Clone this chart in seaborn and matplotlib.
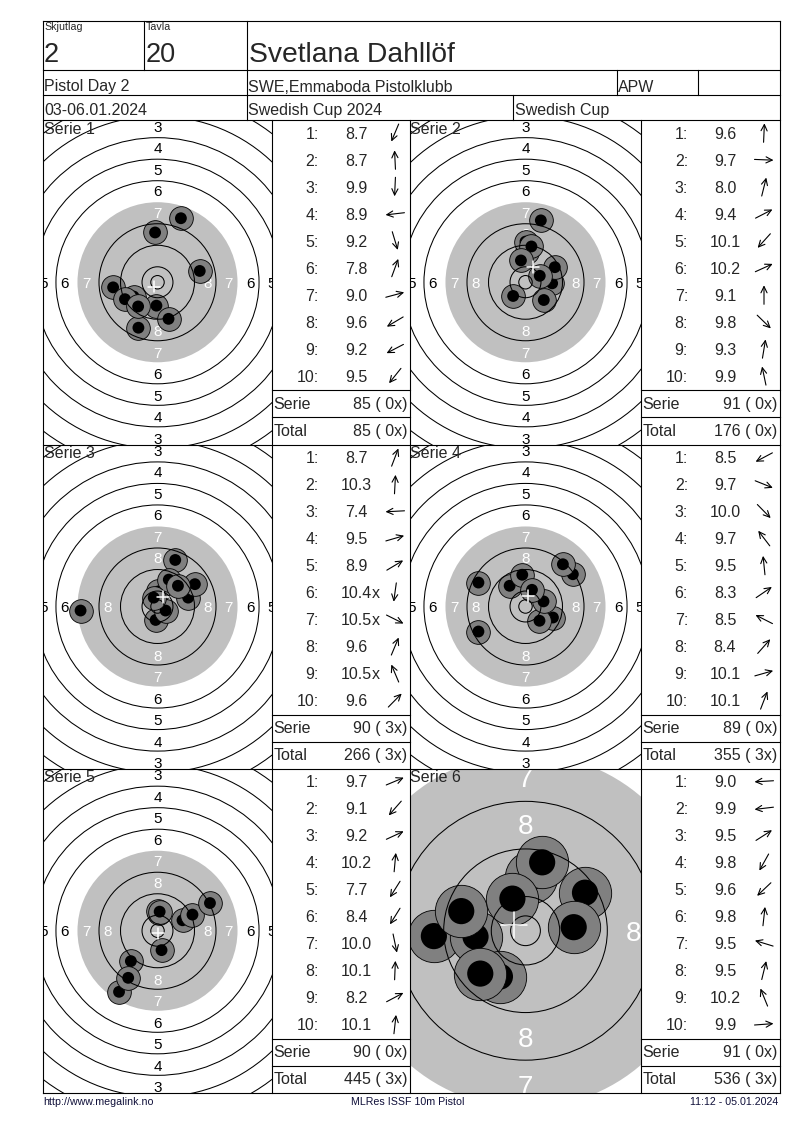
import numpy as np
import pandas as pd
import matplotlib
matplotlib.use("Agg")
import matplotlib.pyplot as plt
import seaborn as sns
from matplotlib.patches import Circle

# ---------------- data ----------------
relay_label, relay = "Skjutlag", "2"
lane_label, lane = "Tavla", "20"
shooter = "Svetlana Dahllöf"
event_name = "Pistol Day 2"
club = "SWE,Emmaboda Pistolklubb"
shooter_class = "APW"
date_range = "03-06.01.2024"
competition = "Swedish Cup 2024"
cup_name = "Swedish Cup"
footer_left = "http://www.megalink.no"
footer_mid = "MLRes ISSF 10m Pistol"
footer_right = "11:12 - 05.01.2024"

series_titles = ["Serie 1", "Serie 2", "Serie 3", "Serie 4", "Serie 5", "Serie 6"]

# shot positions in mm from the centre (x right, y up), in shot order
s1_x = [-7.1, -0.9, -0.4, -16.5, 4.1, 8.7, 15.7, -8.9, -12.1, -7.2]
s1_y = [-16.9, 18.5, -8.7, -1.9, -13.6, 23.8, 4.2, -5.3, -6.3, -9.0]
s1_score = [8.7, 8.7, 9.9, 8.9, 9.2, 7.8, 9.0, 9.6, 9.2, 9.5]
s1_inner = [0, 0, 0, 0, 0, 0, 0, 0, 0, 0]

s2_x = [0.5, 9.9, 5.7, 10.9, -4.6, 5.3, 0.0, 6.8, 2.2, -1.7]
s2_y = [11.2, -0.4, 23.0, 5.6, -5.1, 2.4, 15.1, -6.6, 13.3, 8.1]
s2_score = [9.6, 9.7, 8.0, 9.4, 10.1, 10.2, 9.1, 9.8, 9.3, 9.9]
s2_inner = [0, 0, 0, 0, 0, 0, 0, 0, 0, 0]

s3_x = [6.6, 0.3, -28.6, 11.4, 13.9, -0.7, 3.0, 4.2, -1.4, 7.6]
s3_y = [17.3, 5.6, -1.5, 3.3, 8.3, -5.0, -1.5, 10.0, 3.3, 7.7]
s3_score = [8.7, 10.3, 7.4, 9.5, 8.9, 10.4, 10.5, 9.6, 10.5, 9.6]
s3_inner = [0, 0, 0, 0, 0, 1, 1, 0, 1, 0]

s4_x = [-17.5, 10.2, 5.2, -5.9, -1.2, 17.6, -17.5, 13.9, 6.7, 2.4]
s4_y = [-9.3, -4.1, -5.3, 7.7, 11.8, 12.0, 8.9, 15.7, 1.9, 6.2]
s4_score = [8.5, 9.7, 10.0, 9.7, 9.5, 8.3, 8.5, 8.4, 10.1, 10.1]
s4_inner = [0, 0, 0, 0, 0, 0, 0, 0, 0, 0]

s5_x = [9.3, -9.9, 13.0, 0.6, -14.3, -10.9, 1.5, 0.3, 19.5, 0.8]
s5_y = [3.9, -11.3, 6.0, 6.6, -22.7, -17.5, -7.2, 7.2, 10.3, 7.1]
s5_score = [9.7, 9.1, 9.2, 10.2, 7.7, 8.4, 10.0, 10.1, 8.2, 10.1]
s5_inner = [0, 0, 0, 0, 0, 0, 0, 0, 0, 0]

s6_x = [-15.4, -8.4, 10.0, -4.3, -7.6, 1.0, -10.8, 2.8, -2.2, 8.1]
s6_y = [-0.9, -1.0, 6.4, -7.7, -7.2, 9.0, 3.3, 11.5, 5.4, 0.6]
s6_score = [9.0, 9.9, 9.5, 9.8, 9.6, 9.8, 9.5, 9.5, 10.2, 9.9]
s6_inner = [0, 0, 0, 0, 0, 0, 0, 0, 0, 0]

series_sum = [85, 91, 90, 89, 90, 91]
series_inner = [0, 0, 3, 0, 0, 0]
total_sum = [85, 176, 266, 355, 445, 536]
total_inner = [0, 0, 3, 3, 3, 3]

# mean point of impact (white cross), mm
mpi_x = [-1.2, 2.9, 2.1, 0.9, 0.3, -2.0]
mpi_y = [-1.6, 5.6, 3.5, 4.0, -1.0, 1.0]

# ISSF 10 m pistol target: outer radius of rings 1..10 (mm), inner ten
ring_radius_mm = [77.75, 69.75, 61.75, 53.75, 45.75, 37.75, 29.75, 21.75, 13.75, 5.75]
inner_ten_mm = 2.5
black_ring = 7          # aiming mark covers rings 7-10
numbered_rings = [1, 2, 3, 4, 5, 6, 7, 8]

series_x = [s1_x, s2_x, s3_x, s4_x, s5_x, s6_x]
series_y = [s1_y, s2_y, s3_y, s4_y, s5_y, s6_y]
series_score = [s1_score, s2_score, s3_score, s4_score, s5_score, s6_score]
series_xflag = [s1_inner, s2_inner, s3_inner, s4_inner, s5_inner, s6_inner]

# ---------------- style / layout ----------------
sns.set_theme(style="white")
plt.rcParams["font.family"] = ["Liberation Sans", "DejaVu Sans"]

W, H = 800, 1130
DPI = 100
AIM = "#c0c0c0"
HOLE = "#808080"
LW = 0.8
FS = 11.5
px_per_mm = [2.69, 2.69, 2.69, 2.69, 2.69, 5.95]
label_fs = [11, 11, 11, 11, 11, 20]
label_push_h_px = 2.0
label_push_v_px = 0.8
shot_outer_mm = 4.4
shot_inner_mm = 2.2
cross_mm = 2.2

L, R = 43, 780
TOPY = 21
row_edges = [120, 444.5, 768.5, 1093]
target_cols = [(43, 272), (410, 641)]
table_cols = [(272, 410), (641, 780)]

fig = plt.figure(figsize=(W / DPI, H / DPI), dpi=DPI)
fig.patch.set_facecolor("white")


def px_axes(x0, y0, x1, y1, z=1):
    return fig.add_axes([x0 / W, 1 - y1 / H, (x1 - x0) / W, (y1 - y0) / H], zorder=z)


def pt2px(fs):
    return fs * DPI / 72.0


# ---------------- targets ----------------
for k in range(6):
    r, c = divmod(k, 2)
    top, bot = row_edges[r], row_edges[r + 1]
    x0, x1 = target_cols[c]
    ax = px_axes(x0, top, x1, bot, z=1)
    ax.set_facecolor("white")
    sc = px_per_mm[k]
    hw = (x1 - x0) / 2 / sc
    hh = (bot - top) / 2 / sc

    # aiming mark
    ax.add_patch(Circle((0, 0), ring_radius_mm[black_ring - 1], fc=AIM, ec="none", zorder=1))

    # ring numbers (only those that at least partly fall inside the panel)
    fs = label_fs[k]
    cap_mm = 0.716 * pt2px(fs) / sc
    half_w_mm = 0.28 * pt2px(fs) / sc
    for n in numbered_rings:
        rmid = (ring_radius_mm[n - 1] + ring_radius_mm[n]) / 2
        col = "white" if n >= black_ring else "black"
        for (dx, dy) in [(0, 1), (0, -1), (-1, 0), (1, 0)]:
            if dx == 0:
                rm = rmid + label_push_v_px / sc
                if rm - cap_mm / 2 > hh:
                    continue
            else:
                rm = rmid + label_push_h_px / sc
                if rm - half_w_mm > hw:
                    continue
            ax.text(dx * rm, dy * rm - cap_mm / 2, str(n), ha="center", va="baseline",
                    fontsize=fs, color=col, zorder=2, clip_on=True)

    # shots (in firing order, later shots on top)
    s_out = (2 * shot_outer_mm * sc * 72 / DPI) ** 2
    s_in = (2 * shot_inner_mm * sc * 72 / DPI) ** 2
    df = pd.DataFrame({"x": series_x[k], "y": series_y[k]})
    for i, row in df.iterrows():
        sns.scatterplot(x=[row["x"]], y=[row["y"]], ax=ax, s=s_out, color=HOLE,
                        edgecolor="black", linewidth=0.6, zorder=3 + 2 * i, legend=False)
        sns.scatterplot(x=[row["x"]], y=[row["y"]], ax=ax, s=s_in, color="black",
                        edgecolor="none", linewidth=0, zorder=4 + 2 * i, legend=False)

    # ring lines
    for n, rm in enumerate(ring_radius_mm, start=1):
        if n == black_ring:
            continue
        ax.add_patch(Circle((0, 0), rm, fill=False, ec="black", lw=0.75, zorder=30))
    ax.add_patch(Circle((0, 0), inner_ten_mm, fill=False, ec="black", lw=0.75, zorder=30))

    # mean point of impact
    mx, my = mpi_x[k], mpi_y[k]
    ax.plot([mx - cross_mm, mx + cross_mm], [my, my], color="white", lw=1.1, zorder=31)
    ax.plot([mx, mx], [my - cross_mm, my + cross_mm], color="white", lw=1.1, zorder=31)

    ax.set_xlim(-hw, hw)
    ax.set_ylim(-hh, hh)
    ax.set_xlabel("")
    ax.set_ylabel("")
    ax.axis("off")

# ---------------- overlay: grid, header, tables ----------------
ax0 = px_axes(0, 0, W, H, z=50)
ax0.set_xlim(0, W)
ax0.set_ylim(H, 0)
ax0.patch.set_alpha(0)
ax0.axis("off")


def hline(y, xa, xb):
    ax0.plot([xa, xb], [y, y], color="black", lw=LW, solid_capstyle="projecting")


def vline(x, ya, yb):
    ax0.plot([x, x], [ya, yb], color="black", lw=LW, solid_capstyle="projecting")


# outer frame
hline(TOPY, L, R)
hline(row_edges[-1], L, R)
vline(L, TOPY, row_edges[-1])
vline(R, TOPY, row_edges[-1])
# header rows
for y in (70, 95, 120):
    hline(y, L, R)
vline(144, TOPY, 70)
vline(247, TOPY, 95)
vline(617, 70, 95)
vline(698, 70, 95)
vline(247, 95, 120)
vline(513, 95, 120)
# panel grid
for y in row_edges[1:-1]:
    hline(y, L, R)
for x in (272, 410, 641):
    vline(x, 120, row_edges[-1])

# header text
ax0.text(44, 30.5, relay_label, fontsize=7.7, va="baseline", ha="left")
ax0.text(146, 30.5, lane_label, fontsize=7.7, va="baseline", ha="left")
ax0.text(44, 62, relay, fontsize=19.5, va="baseline", ha="left")
ax0.text(146, 62, lane, fontsize=19.5, va="baseline", ha="left")
ax0.text(249, 62, shooter, fontsize=20.3, va="baseline", ha="left")
ax0.text(44, 91.5, event_name, fontsize=FS, va="baseline", ha="left")
ax0.text(248.5, 91.5, club, fontsize=FS, va="baseline", ha="left")
ax0.text(618, 91.5, shooter_class, fontsize=FS, va="baseline", ha="left")
ax0.text(44, 115, date_range, fontsize=FS, va="baseline", ha="left")
ax0.text(248.5, 115, competition, fontsize=FS, va="baseline", ha="left")
ax0.text(515, 115, cup_name, fontsize=FS, va="baseline", ha="left")

# series titles
for k in range(6):
    r, c = divmod(k, 2)
    ax0.text(target_cols[c][0] + 0.5, row_edges[r] + 14, series_titles[k],
             fontsize=FS, va="baseline", ha="left")

# score tables
for k in range(6):
    r, c = divmod(k, 2)
    top = row_edges[r]
    tx0, tx1 = table_cols[c]
    hline(top + 270, tx0, tx1)
    hline(top + 297, tx0, tx1)
    xs, ys = series_x[k], series_y[k]
    for i, (v, fx) in enumerate(zip(series_score[k], series_xflag[k])):
        yc = top + 12.8 + 27.0 * i
        yb = yc + 0.358 * pt2px(FS)
        ax0.text(tx0 + 47, yb, f"{i + 1}:", fontsize=FS, ha="right", va="baseline")
        t = ax0.text(tx0 + 84, yb, f"{v:.1f}", fontsize=FS, ha="center", va="baseline")
        if fx:
            ax0.annotate("x", xy=(1, 0), xycoords=t, ha="left", va="bottom", fontsize=FS)
        ang = np.arctan2(ys[i], xs[i])
        cx, cy = tx0 + 123, yc
        dx, dy = 9.5 * np.cos(ang), -9.5 * np.sin(ang)
        ax0.annotate("", xy=(cx + dx, cy + dy), xytext=(cx - dx, cy - dy),
                     arrowprops=dict(arrowstyle="->,head_length=0.45,head_width=0.22",
                                     lw=0.8, color="black", shrinkA=0, shrinkB=0,
                                     mutation_scale=10))
    yb = top + 283.2 + 0.358 * pt2px(FS)
    ax0.text(tx0 + 1.5, yb, "Serie", fontsize=FS, ha="left", va="baseline")
    ax0.text(tx1 - 2.5, yb, f"{series_sum[k]} ( {series_inner[k]}x)", fontsize=FS,
             ha="right", va="baseline")
    yb = top + 310 + 0.358 * pt2px(FS)
    ax0.text(tx0 + 1.5, yb, "Total", fontsize=FS, ha="left", va="baseline")
    ax0.text(tx1 - 2.5, yb, f"{total_sum[k]} ( {total_inner[k]}x)", fontsize=FS,
             ha="right", va="baseline")

# footer
ax0.text(43, 1105, footer_left, fontsize=7.7, ha="left", va="baseline", color="#10103a")
ax0.text(407.5, 1105, footer_mid, fontsize=7.7, ha="center", va="baseline", color="#10103a")
ax0.text(778, 1105, footer_right, fontsize=7.7, ha="right", va="baseline", color="#10103a")

fig.savefig("out.png", dpi=DPI, facecolor="white")
